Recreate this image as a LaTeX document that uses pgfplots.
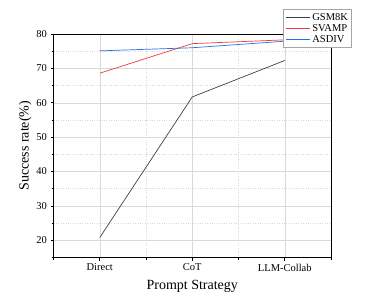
\documentclass[border=0pt]{standalone}
\usepackage{fontspec}
\setmainfont{Liberation Serif}
\usepackage{pgfplots}
\pgfplotsset{compat=1.18}
\definecolor{cgsm}{RGB}{64,64,64}
\definecolor{csv}{RGB}{240,60,60}
\definecolor{cas}{RGB}{40,110,230}
\begin{document}
\begin{tikzpicture}
\useasboundingbox (-53.5pt,-45.5pt) rectangle (328.5pt,257.5pt);
\begin{axis}[
  scale only axis,
  width=277.5pt, height=223.5pt,
  xmin=-0.5, xmax=2.5, ymin=15, ymax=80,
  xtick={0,1,2},
  xticklabels={Direct,CoT,LLM-Collab},
  minor xtick={-0.5,0.5,1.5,2.5},
  ytick={20,30,40,50,60,70,80},
  minor ytick={15,25,35,45,55,65,75},
  tick align=outside,
  xtick pos=bottom, ytick pos=left,
  major tick length=3pt, minor tick length=2pt,
  tick style={black, line width=0.6pt},
  axis line style={black, line width=0.9pt},
  grid=both,
  major grid style={gray!30, line width=0.5pt},
  minor grid style={gray!30, dotted, line width=0.5pt},
  ticklabel style={font=\fontsize{10.5}{12}\selectfont},
  /pgf/number format/assume math mode=true,
  xlabel={Prompt Strategy},
  ylabel={Success rate(\%)},
  label style={font=\fontsize{14}{16}\selectfont},
  xlabel style={yshift=-2pt},
  ylabel style={yshift=-2pt},
  legend style={name=leg, at={(rel axis cs:0.829,1.11)}, anchor=north west,
    font=\fontsize{10.5}{12}\selectfont, fill=white, draw=none,
    row sep=-1.5pt, inner sep=1.5pt, cells={anchor=west}},
  legend cell align=left,
  legend image code/.code={\draw[#1] (0pt,0pt) -- (24pt,0pt);},
]
\addplot[cgsm, line width=0.7pt, legend image post style={draw=cgsm, line width=1.1pt}] coordinates {(0,20.8) (1,61.7) (2,72.3)};
\addlegendentry{GSM8K}
\addplot[csv, line width=0.7pt, legend image post style={draw=csv, line width=1.1pt}] coordinates {(0,68.6) (1,77.2) (2,78.3)};
\addlegendentry{SVAMP}
\addplot[cas, line width=0.7pt, legend image post style={draw=cas, line width=1.1pt}] coordinates {(0,75.1) (1,76.0) (2,77.9)};
\addlegendentry{ASDIV}
\end{axis}
\draw[gray!70, line width=0.5pt] (leg.south west) rectangle (leg.north east);
\end{tikzpicture}
\end{document}
